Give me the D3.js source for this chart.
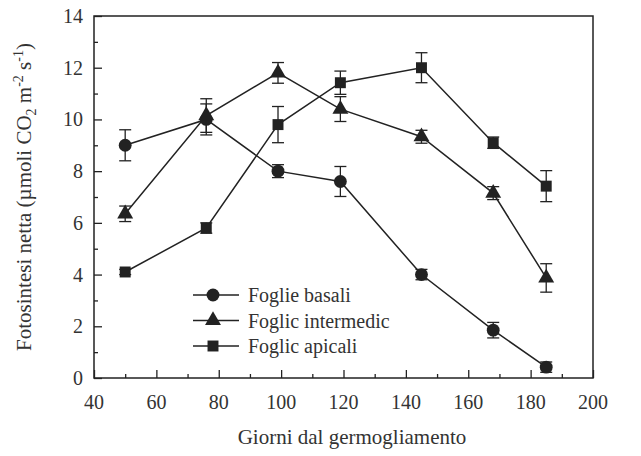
<!DOCTYPE html>
<html><head><meta charset="utf-8">
<script src="https://cdn.jsdelivr.net/npm/d3@7/dist/d3.min.js"></script>
<style>body{margin:0;background:#fff}svg{display:block}</style>
</head><body><svg id="c" width="641" height="456"></svg>
<script>
const days = [50, 76, 99, 119, 145, 168, 185];
const basali = [9.0, 10.0, 8.0, 7.6, 4.0, 1.85, 0.42];
const basaliErr = [0.6, 0.6, 0.25, 0.58, 0.2, 0.3, 0.2];
const intermedie = [6.35, 10.15, 11.8, 10.4, 9.33, 7.15, 3.87];
const intermedieErr = [0.3, 0.65, 0.4, 0.48, 0.25, 0.25, 0.55];
const apicali = [4.1, 5.8, 9.8, 11.42, 12.0, 9.1, 7.42];
const apicaliErr = [0.1, 0.2, 0.7, 0.45, 0.58, 0.22, 0.6];
const xTicks = [40, 60, 80, 100, 120, 140, 160, 180, 200];
const yTicks = [0, 2, 4, 6, 8, 10, 12, 14];
const seriesNames = ["Foglie basali", "Foglic intermedic", "Foglic apicali"];

const FONT = "'Liberation Serif', 'Times New Roman', serif";
const svg = d3.select("#c").attr("font-family", FONT);
const m = {l: 94, r: 48, t: 16, b: 78};
const W = 641, H = 456;
const x = d3.scaleLinear().domain([40, 200]).range([m.l, W - m.r]);
const y = d3.scaleLinear().domain([0, 14]).range([H - m.b, m.t]);
const ink = "#222";
const txt = "#333";

const series = [
  {name: seriesNames[0], v: basali, e: basaliErr, sym: d3.symbolCircle, size: 130},
  {name: seriesNames[1], v: intermedie, e: intermedieErr, sym: d3.symbolTriangle, size: 110},
  {name: seriesNames[2], v: apicali, e: apicaliErr, sym: d3.symbolSquare, size: 120}
];

// frame
svg.append("rect").attr("x", m.l).attr("y", m.t).attr("width", W - m.r - m.l).attr("height", H - m.b - m.t)
  .attr("fill", "none").attr("stroke", ink).attr("stroke-width", 1.5);

// axes
const xAxis = d3.axisBottom(x).tickValues(d3.range(40, 201, 10)).tickSizeOuter(0).tickFormat("");
const gx = svg.append("g").attr("transform", `translate(0,${H - m.b})`).call(xAxis);
gx.selectAll(".tick line").attr("y2", d => xTicks.includes(d) ? -8 : -4);
gx.select(".domain").remove();
gx.selectAll("line").attr("stroke", ink).attr("stroke-width", 1.3);
svg.append("g").selectAll("text").data(xTicks).join("text")
  .attr("x", d => x(d)).attr("y", H - m.b + 31).attr("text-anchor", "middle")
  .attr("font-family", FONT).attr("fill", txt).attr("font-size", 20).text(d => d);

const yAxis = d3.axisLeft(y).tickValues(d3.range(0, 14.01, 1)).tickSizeOuter(0).tickFormat("");
const gy = svg.append("g").attr("transform", `translate(${m.l},0)`).call(yAxis);
gy.selectAll(".tick line").attr("x2", d => yTicks.includes(d) ? 8 : 4);
gy.select(".domain").remove();
gy.selectAll("line").attr("stroke", ink).attr("stroke-width", 1.3);
svg.append("g").selectAll("text").data(yTicks).join("text")
  .attr("x", m.l - 11).attr("y", d => y(d) + 7).attr("text-anchor", "end")
  .attr("font-family", FONT).attr("fill", txt).attr("font-size", 20).text(d => d);

// titles
svg.append("text").attr("x", 352).attr("y", 444).attr("text-anchor", "middle")
  .attr("font-family", FONT).attr("fill", txt).attr("font-size", 21).text("Giorni dal germogliamento");
const yt = svg.append("text").attr("transform", `translate(31,${(m.t + H - m.b) / 2}) rotate(-90)`)
  .attr("text-anchor", "middle").attr("font-family", FONT).attr("fill", txt).attr("font-size", 21);
yt.append("tspan").text("Fotosintesi netta (µmoli CO");
yt.append("tspan").attr("font-size", 14).attr("dy", 5).text("2");
yt.append("tspan").attr("dy", -5).text(" m");
yt.append("tspan").attr("font-size", 14).attr("dy", -8).text("-2");
yt.append("tspan").attr("dy", 8).text(" s");
yt.append("tspan").attr("font-size", 14).attr("dy", -8).text("-1");
yt.append("tspan").attr("dy", 8).text(")");

// series
const line = d3.line().x(d => x(d[0])).y(d => y(d[1]));
series.forEach(s => {
  const pts = days.map((d, i) => [d, s.v[i], s.e[i]]);
  const g = svg.append("g");
  g.append("path").attr("d", line(pts)).attr("fill", "none").attr("stroke", ink).attr("stroke-width", 1.5);
  const eb = g.selectAll("g.eb").data(pts).join("g");
  eb.append("line").attr("x1", d => x(d[0])).attr("x2", d => x(d[0]))
    .attr("y1", d => y(d[1] - d[2])).attr("y2", d => y(d[1] + d[2])).attr("stroke", ink).attr("stroke-width", 1.3);
  [1, -1].forEach(sg => eb.append("line").attr("x1", d => x(d[0]) - 6).attr("x2", d => x(d[0]) + 6)
    .attr("y1", d => y(d[1] + sg * d[2])).attr("y2", d => y(d[1] + sg * d[2])).attr("stroke", ink).attr("stroke-width", 1.3));
  g.selectAll("path.mk").data(pts).join("path").attr("class", "mk")
    .attr("transform", d => `translate(${x(d[0])},${y(d[1])})`)
    .attr("d", d3.symbol(s.sym, s.size)).attr("fill", ink);
});

// legend
const lg = svg.append("g");
series.forEach((s, i) => {
  const ly = 295 + i * 25.5;
  lg.append("line").attr("x1", 193).attr("x2", 239).attr("y1", ly).attr("y2", ly).attr("stroke", ink).attr("stroke-width", 1.5);
  lg.append("path").attr("transform", `translate(213,${ly})`).attr("d", d3.symbol(s.sym, s.size)).attr("fill", ink);
  lg.append("text").attr("x", 248).attr("y", ly + 7).attr("font-family", FONT).attr("fill", txt).attr("font-size", 20).text(s.name);
});
</script></body></html>
